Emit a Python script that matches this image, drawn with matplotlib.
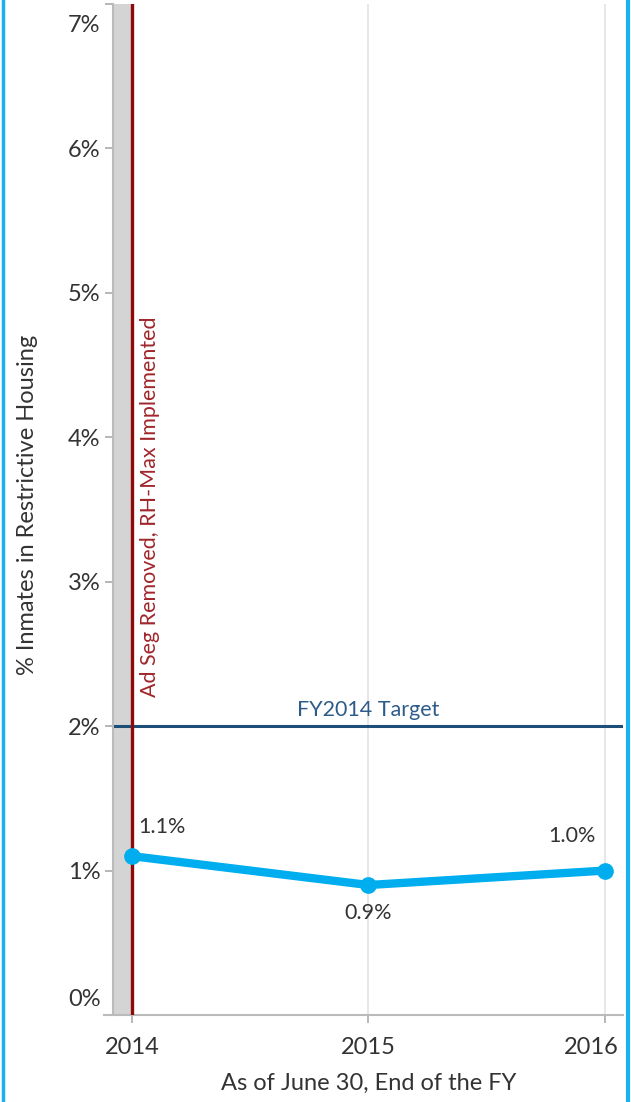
import matplotlib
matplotlib.use("Agg")
import matplotlib.pyplot as plt
from matplotlib.lines import Line2D
from matplotlib.ticker import FuncFormatter
from matplotlib.transforms import ScaledTranslation

plt.rcParams['font.family'] = ['Lato', 'DejaVu Sans']

years = [2014, 2015, 2016]
pct = [1.1, 0.9, 1.0]
labels = ["1.1%", "0.9%", "1.0%"]
label_offsets = [(22, 21), (0, -20), (-24, 25)]  # points
yticks = [0, 1, 2, 3, 4, 5, 6, 7]
target = 2.0
event_year = 2014

W, H = 631, 1102
fig = plt.figure(figsize=(W / 100, H / 100), dpi=100)
ax = fig.add_axes([113 / W, (H - 1015) / H, 510 / W, 1011 / H])

xmin, xmax = 2013.92, 2016.076
ax.set_xlim(xmin, xmax)
ax.set_ylim(0, 7)

# gray band left of event
ax.axvspan(xmin, event_year, color='#D4D4D4', zorder=1, lw=0)
# gridlines
for yr in years[1:]:
    ax.axvline(yr, color='#E3E3E3', lw=1.2, zorder=0)
# event line
ax.axvline(event_year, color='#8E0A0A', lw=2.4, zorder=3)
ax.text(event_year + 0.077, 2.2, "Ad Seg Removed, RH-Max Implemented", rotation=90,
        ha='center', va='bottom', color='#A0262A', fontsize=15.5, zorder=5)
# target line
ax.axhline(target, color='#1D4E78', lw=2.2, zorder=2)
ax.text(2015, 2.115, "FY2014 Target", ha='center', va='center', color='#2D5C8A',
        fontsize=15.5, zorder=5)

# data line
ax.plot(years, pct, color='#00AEEF', lw=6, marker='o', ms=11, zorder=4,
        solid_capstyle='round')
for x, y, t, off in zip(years, pct, labels, label_offsets):
    ax.annotate(t, (x, y), xytext=off, textcoords='offset points', ha='center',
                va='center', fontsize=15.5, color='#333333', zorder=6)

ax.set_yticks(yticks)
ax.yaxis.set_major_formatter(FuncFormatter(lambda v, p: f"{int(v)}%"))
ax.set_xticks(years)
ax.set_xticklabels([str(y) for y in years])
ax.tick_params(axis='both', colors='#AAAAAA', labelcolor='#333333', labelsize=17,
               length=6, width=1.2)
ax.tick_params(axis='y', pad=3)
ax.tick_params(axis='x', pad=10)

# nudge edge tick labels inward like the reference
def shift(lbl, dx_px, dy_px):
    lbl.set_transform(lbl.get_transform() +
                      ScaledTranslation(dx_px / 100, dy_px / 100, fig.dpi_scale_trans))

ylabs = ax.get_yticklabels()
shift(ylabs[0], 0, 17)
shift(ylabs[-1], 0, -19)
xlabs = ax.get_xticklabels()
shift(xlabs[-1], -14, 0)

for s in ['top', 'right']:
    ax.spines[s].set_visible(False)
for s in ['left', 'bottom']:
    ax.spines[s].set_color('#BBBBBB')
    ax.spines[s].set_linewidth(1.5)
ax.spines['bottom'].set_bounds(xmin - 0.04, xmax)
ax.spines['bottom'].set_clip_on(False)

fig.text(28 / W, 1 - 505 / H, "% Inmates in Restrictive Housing", rotation=90,
         ha='center', va='center', fontsize=17, color='#333333')
fig.text(369 / W, 1 - 1083 / H, "As of June 30, End of the FY", ha='center',
         va='center', fontsize=17, color='#333333')

# light blue frame sides
fig.add_artist(Line2D([2.5 / W, 2.5 / W], [0, 1], transform=fig.transFigure,
                      color='#1CB0EE', lw=2.5))
fig.add_artist(Line2D([627.5 / W, 627.5 / W], [0, 1], transform=fig.transFigure,
                      color='#1CB0EE', lw=3))

fig.savefig("out.png", dpi=100)
